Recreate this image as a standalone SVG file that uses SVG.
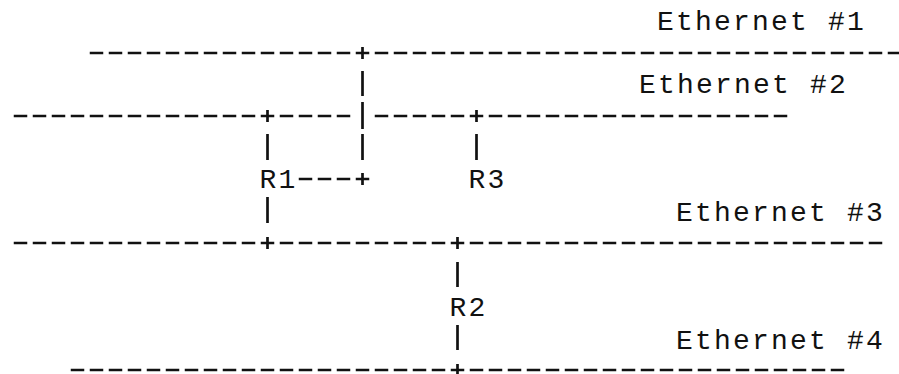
<svg xmlns="http://www.w3.org/2000/svg" width="899" height="374" viewBox="0 0 899 374">
<style>
text{font-family:"Liberation Mono","DejaVu Sans Mono",monospace;font-size:28px;letter-spacing:2.2px;fill:#111}
.net{stroke:#111;stroke-width:2.7;stroke-dasharray:13.5 5.5;fill:none}
.bar{stroke:#111;stroke-width:2.7;fill:none}
</style>
<rect width="899" height="374" fill="#fff"/>
<g id="ethernet1">
<text x="657" y="30">Ethernet #1</text>
<line class="net" x1="89.75" y1="53" x2="901.25" y2="53"/>
</g>
<g id="ethernet2">
<text x="639" y="93">Ethernet #2</text>
<line class="net" x1="13.75" y1="116" x2="355.75" y2="116"/>
<line class="net" x1="374.75" y1="116" x2="787.25" y2="116"/>
</g>
<g id="ethernet3">
<text x="676" y="221">Ethernet #3</text>
<line class="net" x1="13.75" y1="243" x2="882.25" y2="243"/>
</g>
<g id="ethernet4">
<text x="676" y="349">Ethernet #4</text>
<line class="net" x1="70.75" y1="370" x2="844.25" y2="370"/>
</g>
<g id="R1"><text x="259.5" y="188">R1</text></g>
<g id="R3"><text x="468.5" y="188">R3</text></g>
<g id="R2"><text x="449.5" y="316">R2</text></g>
<g id="connectors">
<line class="bar" x1="362.5" y1="47" x2="362.5" y2="59"/>
<line class="bar" x1="362.5" y1="71" x2="362.5" y2="96"/>
<line class="bar" x1="362.5" y1="102" x2="362.5" y2="129"/>
<line class="bar" x1="362.5" y1="134" x2="362.5" y2="160"/>
<line class="bar" x1="362.5" y1="173" x2="362.5" y2="185"/>
<line class="net" x1="298.75" y1="179" x2="369.25" y2="179"/>
<line class="bar" x1="267.5" y1="110" x2="267.5" y2="122"/>
<line class="bar" x1="267.5" y1="134" x2="267.5" y2="160"/>
<line class="bar" x1="267.5" y1="197" x2="267.5" y2="223"/>
<line class="bar" x1="267.5" y1="237" x2="267.5" y2="249"/>
<line class="bar" x1="476.5" y1="110" x2="476.5" y2="122"/>
<line class="bar" x1="476.5" y1="134" x2="476.5" y2="160"/>
<line class="bar" x1="457.5" y1="237" x2="457.5" y2="249"/>
<line class="bar" x1="457.5" y1="262" x2="457.5" y2="287"/>
<line class="bar" x1="457.5" y1="325" x2="457.5" y2="350"/>
<line class="bar" x1="457.5" y1="364" x2="457.5" y2="376"/>
</g>
</svg>
